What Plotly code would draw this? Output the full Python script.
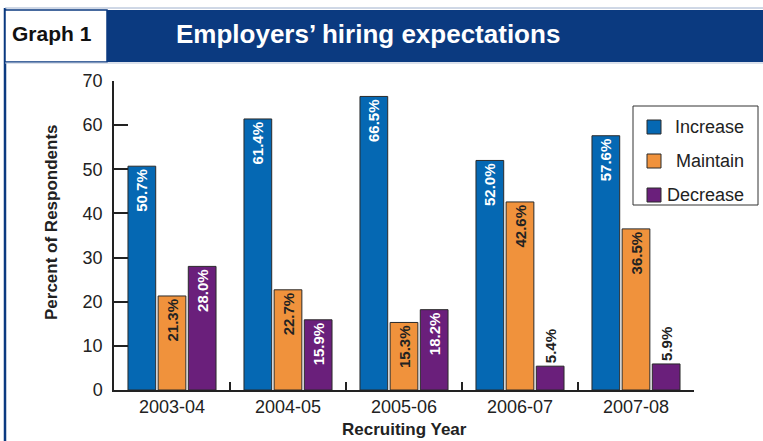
import plotly.graph_objects as go

# Survey results by recruiting year
years = ["2003-04", "2004-05", "2005-06", "2006-07", "2007-08"]
increase = [50.7, 61.4, 66.5, 52.0, 57.6]
maintain = [21.3, 22.7, 15.3, 42.6, 36.5]
decrease = [28.0, 15.9, 18.2, 5.4, 5.9]
series_names = ["Increase", "Maintain", "Decrease"]
y_ticks = [0, 10, 20, 30, 40, 50, 60, 70]

colors = ["#0568b3", "#f0923c", "#6a1f7b"]
label_colors = ["white", "#222222", "white"]

W, H = 763, 441
L, R, T, B = 114, 694, 81, 390  # plot-area edges in pixels


def px(x):
    return (x - L) / (R - L)


def py(y):
    return (B - y) / (B - T)


fig = go.Figure()
for name, vals, col, tcol in zip(series_names, [increase, maintain, decrease], colors, label_colors):
    small = [v < 10 for v in vals]
    fig.add_trace(go.Bar(
        x=years, y=vals, name=name,
        marker=dict(color=col, line=dict(color="#2a2a2a", width=1)),
        text=[f"{v:.1f}%" for v in vals],
        textposition=["outside" if s else "inside" for s in small],
        insidetextanchor="end",
        textangle=-90,
        constraintext="none",
        textfont=dict(family="Liberation Sans, Arial, sans-serif", size=15,
                      color=["#222222" if s else tcol for s in small],
                      weight="bold"),
        cliponaxis=False,
        showlegend=False,
    ))

shapes = []
annotations = []

# Outer frame and header band
shapes.append(dict(type="line", xref="paper", yref="paper", x0=px(5), x1=px(5), y0=py(8), y1=py(441),
                   line=dict(color="#0b3a80", width=2.5)))
shapes.append(dict(type="line", xref="paper", yref="paper", x0=px(5), x1=px(763), y0=py(8), y1=py(8),
                   line=dict(color="#9fb0cc", width=1)))
shapes.append(dict(type="rect", xref="paper", yref="paper", x0=px(106), x1=px(765), y0=py(10), y1=py(62),
                   fillcolor="#0b3a80", line=dict(width=0), layer="below"))
shapes.append(dict(type="rect", xref="paper", yref="paper", x0=px(5), x1=px(107), y0=py(10), y1=py(62),
                   fillcolor="white", line=dict(color="#0b3a80", width=1.5)))
shapes.append(dict(type="line", xref="paper", yref="paper", x0=px(5), x1=px(763), y0=py(63), y1=py(63),
                   line=dict(color="#b7c3d8", width=1)))

annotations.append(dict(text="<b>Graph 1</b>", xref="paper", yref="paper", x=px(52), y=py(34),
                        showarrow=False, xanchor="center", yanchor="middle",
                        font=dict(family="Liberation Sans, Arial", size=21, color="#111111")))
annotations.append(dict(text="<b>Employers’ hiring expectations</b>", xref="paper", yref="paper",
                        x=px(174), y=py(34), showarrow=False, xanchor="left", yanchor="middle",
                        font=dict(family="Liberation Sans, Arial", size=26, color="white")))

# Axis titles
annotations.append(dict(text="<b>Percent of Respondents</b>", xref="paper", yref="paper", x=px(51), y=py(222),
                        showarrow=False, textangle=-90, xanchor="center", yanchor="middle",
                        font=dict(family="Liberation Sans, Arial", size=17, color="#222222")))
annotations.append(dict(text="<b>Recruiting Year</b>", xref="paper", yref="paper", x=px(404), y=py(440),
                        showarrow=False, xanchor="center", yanchor="bottom", borderpad=0,
                        font=dict(family="Liberation Sans, Arial", size=17, color="#222222")))

# Legend box
shapes.append(dict(type="rect", xref="paper", yref="paper", x0=px(633), x1=px(758), y0=py(106), y1=py(205),
                   fillcolor="white", line=dict(color="#333333", width=1)))
for i, (name, col) in enumerate(zip(series_names, colors)):
    cy = 127 + i * 34
    shapes.append(dict(type="rect", xref="paper", yref="paper", x0=px(647), x1=px(661),
                       y0=py(cy - 7), y1=py(cy + 7), fillcolor=col, line=dict(color="#2a2a2a", width=1)))
    annotations.append(dict(text=name, xref="paper", yref="paper", x=px(746), y=py(cy), showarrow=False,
                            xanchor="right", yanchor="middle",
                            font=dict(family="Liberation Sans, Arial", size=18, color="#222222")))

fig.update_layout(
    width=W, height=H,
    margin=dict(l=L, r=W - R, t=T, b=H - B),
    paper_bgcolor="white", plot_bgcolor="white",
    barmode="group", bargap=0.22, bargroupgap=0.08,
    font=dict(family="Liberation Sans, Arial, sans-serif", color="#222222"),
    shapes=shapes, annotations=annotations,
    showlegend=False,
    xaxis=dict(type="category", showline=True, linecolor="#222222", linewidth=1.5, ticks="inside", ticklen=8,
               tickson="boundaries", tickcolor="#222222", tickwidth=1.5,
               tickfont=dict(size=18, color="#222222"), showgrid=False, zeroline=False),
    yaxis=dict(range=[0, 70], tickvals=y_ticks, showline=True, linecolor="#222222", linewidth=1.5,
               ticks="inside", ticklen=14, tickcolor="#222222", tickwidth=1.5,
               ticklabelstandoff=6,
               tickfont=dict(size=18, color="#222222"), showgrid=False, zeroline=False),
)

fig.write_html("out.html")
